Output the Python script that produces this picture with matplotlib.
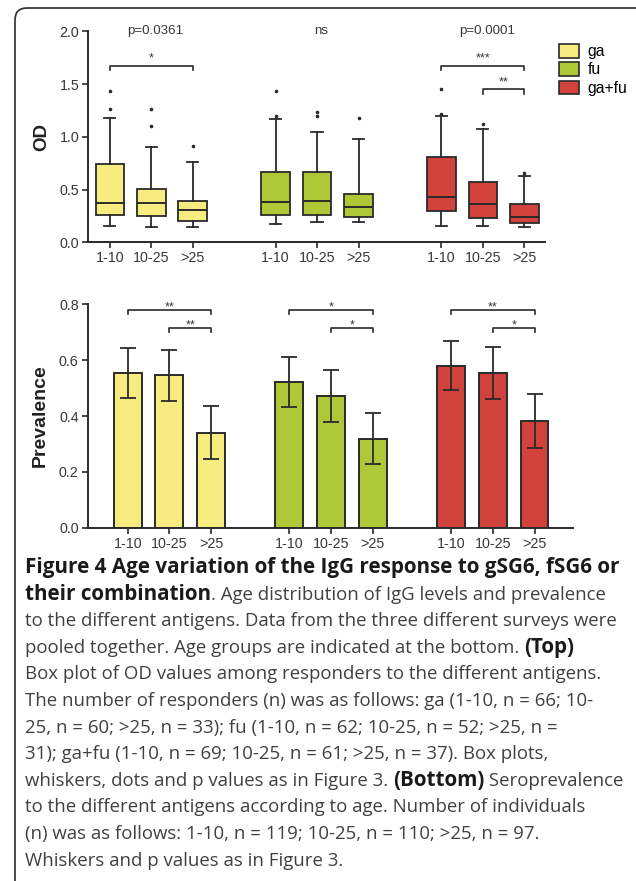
import matplotlib
matplotlib.use("Agg")
import matplotlib.pyplot as plt
from matplotlib.patches import Patch, FancyBboxPatch
import numpy as np

# ---------------- data ----------------
antigens = ["ga", "fu", "ga+fu"]
age_groups = ["1-10", "10-25", ">25"]
colors = ["#F6EC80", "#AFC838", "#D2423C"]

# Top panel: box plot statistics of OD (per antigen, per age group)
od_q1 = [[0.256, 0.250, 0.200], [0.256, 0.260, 0.243], [0.294, 0.234, 0.180]]
od_median = [[0.370, 0.376, 0.307], [0.386, 0.390, 0.335], [0.433, 0.364, 0.240]]
od_q3 = [[0.744, 0.503, 0.392], [0.670, 0.665, 0.456], [0.810, 0.570, 0.367]]
od_whislo = [[0.155, 0.148, 0.145], [0.177, 0.190, 0.190], [0.155, 0.155, 0.142]]
od_whishi = [[1.180, 0.905, 0.765], [1.170, 1.045, 0.980], [1.200, 1.070, 0.632]]
od_fliers = [[[1.26, 1.43], [1.10, 1.26], [0.91]],
             [[1.20, 1.43], [1.20, 1.235], [1.18]],
             [[1.22, 1.456], [1.123], [0.655]]]
od_pvalues = ["p=0.0361", "ns", "p=0.0001"]
# brackets: (antigen index, from age idx, to age idx, y level, label)
od_brackets = [(0, 0, 2, 1.674, "*"), (2, 0, 2, 1.674, "***"), (2, 1, 2, 1.45, "**")]

# Bottom panel: prevalence with CI
prev = [[0.554, 0.546, 0.340], [0.521, 0.472, 0.319], [0.579, 0.554, 0.381]]
prev_lo = [[0.464, 0.452, 0.245], [0.431, 0.378, 0.227], [0.492, 0.461, 0.284]]
prev_hi = [[0.645, 0.637, 0.435], [0.610, 0.566, 0.412], [0.669, 0.647, 0.478]]
prev_brackets = [(0, 0, 2, 0.78, "**"), (0, 1, 2, 0.716, "**"),
                 (1, 0, 2, 0.78, "*"), (1, 1, 2, 0.716, "*"),
                 (2, 0, 2, 0.78, "**"), (2, 1, 2, 0.716, "*")]

caption_lines = [
    [("Figure 4 Age variation of the IgG response to gSG6, fSG6 or", True)],
    [("their combination", True), (". Age distribution of IgG levels and prevalence", False)],
    [("to the different antigens. Data from the three different surveys were", False)],
    [("pooled together. Age groups are indicated at the bottom. ", False), ("(Top)", True)],
    [("Box plot of OD values among responders to the different antigens.", False)],
    [("The number of responders (n) was as follows: ga (1-10, n = 66; 10-", False)],
    [("25, n = 60; >25, n = 33); fu (1-10, n = 62; 10-25, n = 52; >25, n =", False)],
    [("31); ga+fu (1-10, n = 69; 10-25, n = 61; >25, n = 37). Box plots,", False)],
    [("whiskers, dots and p values as in Figure 3. ", False), ("(Bottom)", True),
     (" Seroprevalence", False)],
    [("to the different antigens according to age. Number of individuals", False)],
    [("(n) was as follows: 1-10, n = 119; 10-25, n = 110; >25, n = 97.", False)],
    [("Whiskers and p values as in Figure 3.", False)],
]

# ---------------- figure ----------------
W, H = 636, 881
fig = plt.figure(figsize=(W / 100, H / 100), dpi=100)
fig.patch.set_facecolor("white")

EDGE = "#2a2a2a"
TXT = "#383838"
PLOTFONT = ["Liberation Sans", "DejaVu Sans"]

# frame (rounded border)
fr = fig.add_axes([0, 0, 1, 1], zorder=0)
fr.set_xlim(0, W)
fr.set_ylim(H, 0)
fr.axis("off")
fr.add_patch(FancyBboxPatch((15, 8), 640, 950,
                            boxstyle="round,pad=0,rounding_size=12",
                            fill=False, lw=1.3, ec="#3a3a3a"))


def px_axes(left, top, right, bottom):
    return fig.add_axes([left / W, 1 - bottom / H, (right - left) / W, (bottom - top) / H],
                        zorder=2)


def style_axes(ax):
    for s in ["top", "right"]:
        ax.spines[s].set_visible(False)
    for s in ["left", "bottom"]:
        ax.spines[s].set_color(EDGE)
        ax.spines[s].set_linewidth(1.4)
    ax.tick_params(direction="out", length=4, width=1.2, color=EDGE,
                   labelcolor=TXT, labelsize=10.3, pad=2.5)
    for lab in ax.get_xticklabels() + ax.get_yticklabels():
        lab.set_family(PLOTFONT)
    ax.patch.set_alpha(0)


def bracket(ax, x0, x1, y, label, drop, fs=9, off=0.0):
    ax.plot([x0, x0, x1, x1], [y - drop, y, y, y - drop], color=EDGE, lw=1.2,
            clip_on=False)
    ax.text((x0 + x1) / 2, y + off, label, ha="center", va="bottom", fontsize=fs,
            color=TXT, family=PLOTFONT)


# ---------------- top: box plots ----------------
ax1 = px_axes(88.3, 31.3, 545, 242.3)
top_step = 4.0
stats, pos, cols = [], [], []
for g in range(len(antigens)):
    for i in range(len(age_groups)):
        stats.append(dict(med=od_median[g][i], q1=od_q1[g][i], q3=od_q3[g][i],
                          whislo=od_whislo[g][i], whishi=od_whishi[g][i],
                          fliers=od_fliers[g][i]))
        pos.append(g * top_step + i)
        cols.append(colors[g])
bp = ax1.bxp(stats, positions=pos, widths=0.69, capwidths=0.27, patch_artist=True,
             boxprops=dict(lw=1.3, edgecolor=EDGE),
             medianprops=dict(color=EDGE, lw=1.4),
             whiskerprops=dict(color=EDGE, lw=1.3),
             capprops=dict(color=EDGE, lw=1.3),
             flierprops=dict(marker="o", markersize=1.6, markerfacecolor=EDGE,
                             markeredgecolor=EDGE, lw=0))
for box, c in zip(bp["boxes"], cols):
    box.set_facecolor(c)
ax1.set_xlim(-0.52, 10.5)
ax1.set_ylim(0, 2.0)
ax1.set_yticks([0, 0.5, 1.0, 1.5, 2.0])
ax1.set_yticklabels(["0.0", "0.5", "1.0", "1.5", "2.0"])
ax1.set_xticks(pos)
ax1.set_xticklabels(age_groups * len(antigens))
style_axes(ax1)
ax1.set_ylabel("OD", fontsize=13.5, fontweight="bold", color="#222222",
               family=PLOTFONT, labelpad=7)
for g, p in enumerate(od_pvalues):
    ax1.text(g * top_step + 1 + 0.1, 2.0, p, ha="center", va="center",
             fontsize=9.6, color=TXT, family=PLOTFONT)
for g, a, b, y, lab in od_brackets:
    bracket(ax1, g * top_step + a, g * top_step + b, y, lab, drop=0.045,
            off=0.01)

fig.legend(handles=[Patch(facecolor=c, edgecolor=EDGE, lw=1.2) for c in colors],
           labels=antigens, loc="upper left", bbox_to_anchor=(559 / W, 1 - 44 / H),
           frameon=False, handlelength=1.25, handleheight=0.95,
           handletextpad=0.55, labelspacing=0.2, borderpad=0, borderaxespad=0,
           prop=dict(family=PLOTFONT, size=11.3))

# ---------------- bottom: bars ----------------
ax2 = px_axes(87.7, 304.3, 573.3, 527.7)
bot_step = 3.88
for g in range(len(antigens)):
    x = np.arange(len(age_groups)) + g * bot_step
    vals = np.array(prev[g])
    lo = vals - np.array(prev_lo[g])
    hi = np.array(prev_hi[g]) - vals
    ax2.bar(x, vals, width=0.67, color=colors[g], edgecolor=EDGE, lw=1.4, zorder=2)
    ax2.errorbar(x, vals, yerr=[lo, hi], fmt="none", ecolor=EDGE, elinewidth=1.3,
                 capsize=5.8, capthick=1.3, zorder=3)
bx = [g * bot_step + i for g in range(len(antigens)) for i in range(len(age_groups))]
ax2.set_xlim(-0.96, 10.69)
ax2.set_ylim(0, 0.8)
ax2.set_yticks([0, 0.2, 0.4, 0.6, 0.8])
ax2.set_yticklabels(["0.0", "0.2", "0.4", "0.6", "0.8"])
ax2.set_xticks(bx)
ax2.set_xticklabels(age_groups * len(antigens))
style_axes(ax2)
ax2.set_ylabel("Prevalence", fontsize=14, fontweight="bold", color="#222222",
               family=PLOTFONT, labelpad=7)
for g, a, b, y, lab in prev_brackets:
    bracket(ax2, g * bot_step + a, g * bot_step + b, y, lab, drop=0.016, off=-0.012)

# ---------------- caption ----------------
renderer = fig.canvas.get_renderer()
CAPFONT = ["Open Sans", "DejaVu Sans"]


def width_px(s, bold, size):
    t = fig.text(0, 0, s, fontsize=size, family=CAPFONT,
                 fontweight="bold" if bold else "normal")
    w = t.get_window_extent(renderer).width
    t.remove()
    return w


reg_size = 12 * 587 / width_px(caption_lines[2][0][0], False, 12)
bold_size = 12 * 597 / width_px(caption_lines[0][0][0], True, 12)

x0, y0, dy = 25, 568, 26.6
for k, line in enumerate(caption_lines):
    x = x0
    y = y0 + k * dy
    for s, bold in line:
        size = bold_size if bold else reg_size
        t = fig.text(x / W, 1 - y / H, s, fontsize=size, family=CAPFONT,
                     fontweight="bold" if bold else "normal",
                     color="#1a1a1a" if bold else "#404040", va="center", ha="left")
        x += t.get_window_extent(renderer).width

fig.savefig("out.png", dpi=100)
